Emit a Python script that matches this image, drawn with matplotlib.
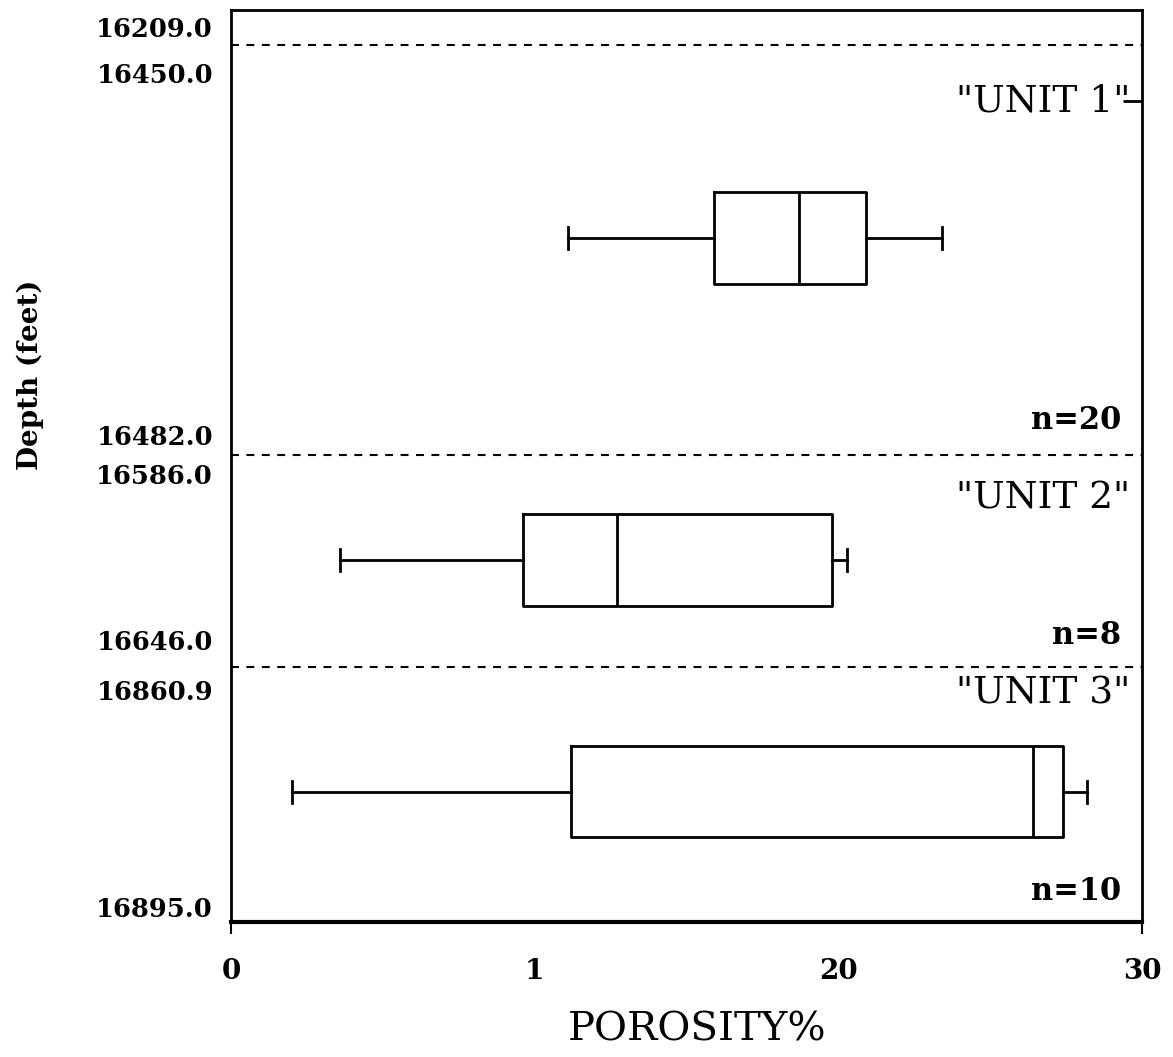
import matplotlib
matplotlib.use("Agg")
import matplotlib.pyplot as plt

# porosity box statistics per unit (whisker low, Q1, median, Q3, whisker high)
units = ['"UNIT 1"', '"UNIT 2"', '"UNIT 3"']
counts = ["n=20", "n=8", "n=10"]
whislo = [11.1, 3.6, 2.0]
q1 = [15.9, 9.6, 11.2]
med = [18.7, 12.7, 26.4]
q3 = [20.9, 19.8, 27.4]
whishi = [23.4, 20.3, 28.2]

# depth tick labels along the left axis (0 = top of track, 100 = bottom)
depth_pos = [1.9, 6.9, 46.6, 50.9, 69.1, 74.6, 98.4]
depth_labels = ["16209.0", "16450.0", "16482.0", "16586.0",
                "16646.0", "16860.9", "16895.0"]
boundaries = [3.8, 48.8, 72.0]
box_pos = [25.0, 60.3, 85.7]
unit_pos = [10.0, 53.6, 74.9]
count_pos = [45.0, 68.6, 96.7]

xticks = [0, 10, 20, 30]
xticklabels = ["0", "1", "20", "30"]

serif = "DejaVu Serif"

fig = plt.figure(figsize=(11.73, 10.57), dpi=100)
ax = fig.add_axes([0.197, 0.1277, 0.7766, 0.8628])

stats = []
for i in range(len(units)):
    stats.append(dict(whislo=whislo[i], q1=q1[i], med=med[i],
                      q3=q3[i], whishi=whishi[i], fliers=[]))

line = dict(color="black", linewidth=2)
ax.bxp(stats, positions=box_pos, widths=10, orientation="horizontal",
       showfliers=False, capwidths=2.4,
       boxprops=line, medianprops=line, whiskerprops=line, capprops=line)

for b in boundaries:
    ax.axhline(b, color="black", linewidth=1.5, linestyle=(0, (3.8, 3.6)))

for name, y in zip(units, unit_pos):
    ax.text(29.6, y, name, ha="right", va="center",
            fontsize=27, family=serif)
for n, y in zip(counts, count_pos):
    ax.text(29.3, y, n, ha="right", va="center",
            fontsize=22, family=serif, fontweight="bold")

ax.set_xlim(0, 30)
ax.set_ylim(100, 0)

ax.set_xticks(xticks, xticklabels)
ax.set_yticks(depth_pos, depth_labels)
ax.tick_params(axis="both", length=0)
ax.tick_params(axis="y", pad=13)
ax.tick_params(axis="x", pad=26)
for lab in ax.get_yticklabels():
    lab.set_family(serif)
    lab.set_fontweight("bold")
    lab.set_fontsize(18.5)
for lab in ax.get_xticklabels():
    lab.set_family(serif)
    lab.set_fontweight("bold")
    lab.set_fontsize(20)

# inward ticks on the porosity axis and the unit marker on the right
ax.set_xticks([10, 20], minor=True)
ax.tick_params(axis="x", which="minor", direction="in", length=12, width=1.5)
ax.set_yticks([unit_pos[0]], minor=True)
ax.tick_params(axis="y", which="minor", left=False, right=True,
               direction="in", length=14, width=2)
for x in (0, 30):
    ax.plot([x, x], [100, 101.2], color="black", linewidth=1.5, clip_on=False)

for side in ("left", "right", "top"):
    ax.spines[side].set_linewidth(2)
ax.spines["bottom"].set_linewidth(3)

ax.set_xlabel("POROSITY%", family=serif, fontsize=29)
ax.xaxis.set_label_coords(0.511, -0.098)
ax.set_ylabel("Depth (feet)", family=serif, fontsize=20, fontweight="bold")
ax.yaxis.set_label_coords(-0.205, 0.6)

fig.savefig("out.png", dpi=100)
